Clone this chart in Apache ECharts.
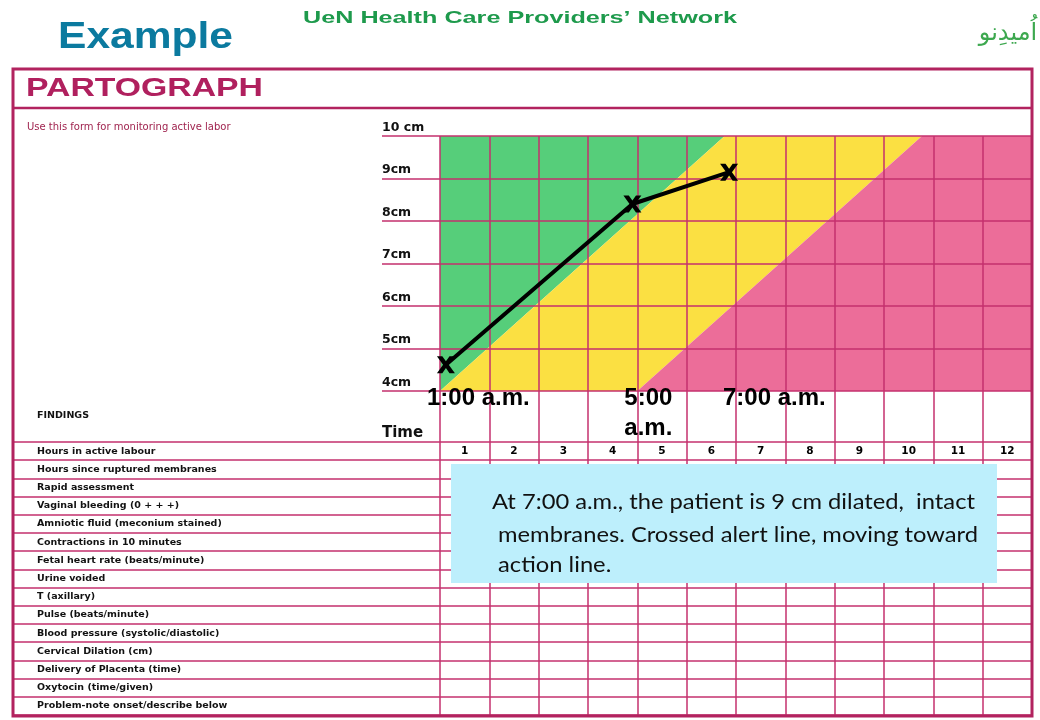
<!DOCTYPE html>
<html><head><meta charset="utf-8">
<script src="https://cdn.jsdelivr.net/npm/echarts@6/dist/echarts.min.js"></script>
<style>html,body{margin:0;padding:0;background:#fff}#c{width:1040px;height:720px}</style>
</head><body><div id="c"></div>
<script>
// ---- data ----
const hourTicks = [0,1,2,3,4,5,6,7,8,9,10,11,12];
const cmTicks = [4,5,6,7,8,9,10];
const cmLabels = ['4cm','5cm','6cm','7cm','8cm','9cm','10 cm'];
const alertLine = [[0,4],[5.77,10]];
const actionLine = [[4,4],[9.77,10]];
const dilation = [[0.12,4.62],[3.9,8.4],[5.86,9.15]];
const timeMarks = [[0,'1:00 a.m.'],[4,'5:00\na.m.'],[6,'7:00 a.m.']];
const hourLabels = ['1','2','3','4','5','6','7','8','9','10','11','12'];
const findings = [
  'Hours in active labour','Hours since ruptured membranes','Rapid assessment',
  'Vaginal bleeding (0 + + +)','Amniotic fluid (meconium stained)','Contractions in 10 minutes',
  'Fetal heart rate (beats/minute)','Urine voided','T (axillary)','Pulse (beats/minute)',
  'Blood pressure (systolic/diastolic)','Cervical Dilation (cm)','Delivery of Placenta (time)',
  'Oxytocin (time/given)','Problem-note onset/describe below'
];
const noteLines = ['At 7:00 a.m., the patient is 9 cm dilated,  intact',' membranes. Crossed alert line, moving toward',' action line.'];

// ---- helpers ----
const GRID = '#C4306E';
const FRAME = '#B2235F';
const ctx = document.createElement('canvas').getContext('2d');
function fitScale(text, font, width){ ctx.font = font; return width / ctx.measureText(text).width; }

const xMin = hourTicks[0], xMax = hourTicks[hourTicks.length-1];
const yMin = cmTicks[0], yMax = cmTicks[cmTicks.length-1];
const regions = [
  {color:'#56CE7A', pts:[alertLine[0],[xMin,yMax],alertLine[1]]},
  {color:'#FBE042', pts:[alertLine[0],alertLine[1],actionLine[1],actionLine[0]]},
  {color:'#EC6D99', pts:[actionLine[0],actionLine[1],[xMax,yMax],[xMax,yMin]]}
];

const xPlain = (gi) => ({
  type:'value', gridIndex:gi, min:xMin, max:xMax, interval:1,
  axisLine:{show:false}, axisTick:{show:false}, axisLabel:{show:false},
  splitLine:{show:true, lineStyle:{color:GRID, width:1.5}}, z:5
});

const titleFont = 'bold 17px "Liberation Sans"';
const partFont = 'bold 25px "Liberation Sans"';
const exFont = 'bold 37px "Liberation Sans"';
const noteFont = '21px Lato';
const noteScale = fitScale(noteLines[0], noteFont, 483);

const chart = echarts.init(document.getElementById('c'), null, {renderer:'canvas'});
chart.setOption({
  animation:false,
  grid:[
    {left:440, top:136, width:592, height:255, show:false},
    {left:440, top:391, width:592, height:51, show:false},
    {left:440, top:442, width:592, height:273, show:false}
  ],
  xAxis:[xPlain(0), xPlain(1), xPlain(2)],
  yAxis:[
    {type:'value', gridIndex:0, min:yMin, max:yMax, interval:1, z:5,
     axisLine:{show:false},
     axisTick:{show:true, inside:false, length:58, lineStyle:{color:GRID, width:1.5}},
     splitLine:{show:true, lineStyle:{color:GRID, width:1.5}},
     axisLabel:{show:true, margin:58, align:'left', verticalAlign:'bottom', padding:[0,0,2,0],
       fontFamily:'DejaVu Sans', fontWeight:'bold', fontSize:12.5, color:'#111',
       formatter:(v)=>cmLabels[cmTicks.indexOf(v)]}},
    {type:'value', gridIndex:1, min:0, max:1, axisLine:{show:false}, axisTick:{show:false},
     axisLabel:{show:false}, splitLine:{show:false}},
    {type:'category', gridIndex:2, data:findings, inverse:true, z:5,
     axisLine:{show:false},
     axisTick:{show:true, interval:0, length:427, lineStyle:{color:GRID, width:1.5}},
     splitLine:{show:true, interval:0, lineStyle:{color:GRID, width:1.5}},
     axisLabel:{show:true, interval:0, margin:403, align:'left', fontFamily:'DejaVu Sans',
       fontWeight:'bold', fontSize:9.5, color:'#111'}}
  ],
  series:[
    {type:'custom', xAxisIndex:0, yAxisIndex:0, z:1, silent:true,
     data:regions.map((r,i)=>[i]),
     renderItem:(params, api)=>{
       const r = regions[params.dataIndex];
       return {type:'polygon', shape:{points:r.pts.map(p=>api.coord(p))}, style:{fill:r.color}};
     }},
    {type:'line', xAxisIndex:0, yAxisIndex:0, z:10, data:dilation, symbol:'none',
     lineStyle:{color:'#000', width:4}},
    {type:'scatter', xAxisIndex:0, yAxisIndex:0, z:11, data:dilation,
     symbol:'path://M0,0L3.6,0L6,3.6L8.4,0L12,0L7.9,6L12,12L8.4,12L6,8.4L3.6,12L0,12L4.1,6Z',
     symbolSize:[18,17], itemStyle:{color:'#000', opacity:1}},
    {type:'scatter', xAxisIndex:1, yAxisIndex:1, z:11, symbolSize:0, itemStyle:{opacity:1},
     data:timeMarks.map(t=>[t[0],1,t[1]]),
     label:{show:true, position:'inside', align:'left', verticalAlign:'top', offset:[-13,-8],
       formatter:(p)=>p.data[2], fontFamily:'Liberation Sans', fontWeight:'bold', fontSize:24,
       lineHeight:30, color:'#000', opacity:1}},
    {type:'scatter', xAxisIndex:2, yAxisIndex:2, z:11, symbolSize:0, itemStyle:{opacity:1},
     data:hourLabels.map((h,i)=>[i+0.5, findings[0], h]),
     label:{show:true, position:'inside', formatter:(p)=>p.data[2], fontFamily:'DejaVu Sans',
       fontWeight:'bold', fontSize:10.5, color:'#000', opacity:1}}
  ],
  graphic:[
    {type:'rect', z:50, shape:{x:451, y:464, width:546, height:119}, style:{fill:'#BDEFFC'}},
    {type:'text', z:51, x:492, y:502, scaleX:noteScale, style:{text:noteLines[0], font:noteFont, fill:'#111', textVerticalAlign:'middle'}},
    {type:'text', z:51, x:492, y:535, scaleX:noteScale, style:{text:noteLines[1], font:noteFont, fill:'#111', textVerticalAlign:'middle'}},
    {type:'text', z:51, x:492, y:565, scaleX:noteScale, style:{text:noteLines[2], font:noteFont, fill:'#111', textVerticalAlign:'middle'}},
    {type:'rect', z:60, shape:{x:13, y:69, width:1019, height:647}, style:{fill:null, stroke:FRAME, lineWidth:3}},
    {type:'line', z:60, shape:{x1:13, y1:108, x2:1032, y2:108}, style:{stroke:FRAME, lineWidth:2.5}},
    {type:'text', z:60, x:58, y:38, scaleX:fitScale('Example', exFont, 175),
     style:{text:'Example', font:exFont, fill:'#0B7A9F', textVerticalAlign:'middle'}},
    {type:'text', z:60, x:303, y:18, scaleX:fitScale('UeN Health Care Providers\u2019 Network', titleFont, 434),
     style:{text:'UeN Health Care Providers\u2019 Network', font:titleFont, fill:'#1E9A4C', textVerticalAlign:'middle',
       shadowColor:'rgba(0,0,0,0.35)', shadowOffsetX:1, shadowOffsetY:1, shadowBlur:1}},
    {type:'text', z:60, x:1008, y:34, style:{text:'\u0627\u064F\u0645\u06CC\u062F\u0650\u0646\u0648', font:'24px "DejaVu Sans"', fill:'#3DA84F', textAlign:'center', textVerticalAlign:'middle'}},
    {type:'text', z:60, x:26, y:89, scaleX:fitScale('PARTOGRAPH', partFont, 237),
     style:{text:'PARTOGRAPH', font:partFont, fill:'#B0205E', textVerticalAlign:'middle'}},
    {type:'text', z:60, x:27, y:127, style:{text:'Use this form for monitoring active labor', font:'10px "DejaVu Sans"', fill:'#A0244F', textVerticalAlign:'middle'}},
    {type:'text', z:60, x:37, y:416, style:{text:'FINDINGS', font:'bold 9.5px "DejaVu Sans"', fill:'#111', textVerticalAlign:'middle'}},
    {type:'text', z:60, x:382, y:433, style:{text:'Time', font:'bold 15px "DejaVu Sans"', fill:'#111', textVerticalAlign:'middle'}}
  ]
});
</script></body></html>
